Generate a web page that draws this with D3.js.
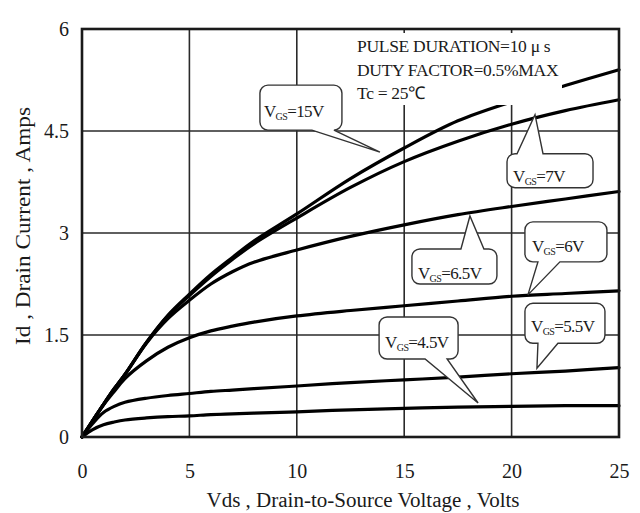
<!DOCTYPE html>
<html><head><meta charset="utf-8">
<script src="https://cdn.jsdelivr.net/npm/d3@7"></script>
<style>
html,body{margin:0;padding:0;background:#fff;}
svg{display:block;}
text{font-family:"Liberation Serif","Times New Roman",serif;fill:#1a1a1a;}
</style></head>
<body>
<svg id="chart" width="640" height="513"></svg>
<script>
// ---- data ----
const vds   = [0, 0.5, 1, 1.5, 2, 3, 4, 5, 6, 7, 8, 10, 12.5, 15, 17.5, 20, 22.5, 25];
const id15  = [0, .24, .48, .71, .92, 1.39, 1.79, 2.10, 2.39, 2.64, 2.88, 3.28, 3.80, 4.25, 4.65, 4.93, 5.17, 5.40];
const id7   = [0, .24, .48, .71, .92, 1.39, 1.78, 2.08, 2.36, 2.61, 2.84, 3.22, 3.67, 4.05, 4.35, 4.60, 4.80, 4.96];
const id65  = [0, .24, .48, .71, .92, 1.38, 1.74, 2.01, 2.25, 2.43, 2.57, 2.75, 2.95, 3.12, 3.27, 3.39, 3.50, 3.61];
const id6   = [0, .24, .47, .67, .86, 1.12, 1.32, 1.46, 1.56, 1.63, 1.69, 1.78, 1.86, 1.93, 2.00, 2.07, 2.11, 2.15];
const id55  = [0, .20, .36, .45, .51, .57, .61, .64, .67, .69, .71, .75, .80, .84, .88, .93, .97, 1.02];
const id45  = [0, .11, .18, .22, .25, .28, .30, .31, .33, .34, .35, .37, .40, .42, .44, .45, .46, .46];
const seriesNames = ["15V", "7V", "6.5V", "6V", "5.5V", "4.5V"];
const seriesValues = [id15, id7, id65, id6, id55, id45];
const xTicks = [0, 5, 10, 15, 20, 25];
const yTicks = [0, 1.5, 3, 4.5, 6];
const yTickLabels = ["0", "1.5", "3", "4.5", "6"];
const xTitle = "Vds , Drain-to-Source Voltage , Volts";
const yTitle = "Id , Drain Current , Amps";
const noteLines = ["PULSE DURATION=10 \u03bc s", "DUTY FACTOR=0.5%MAX", "Tc = 25\u2103"];
// callout targets (data coords) per series label
const calloutNames = ["15V", "7V", "6.5V", "6V", "5.5V", "4.5V"];
const calloutV = [13.87, 21.09, 18.06, 20.76, 21.18, 18.44];
const calloutI = [4.19, 4.74, 3.25, 2.09, 1.01, 0.50];

// ---- layout / style ----
const svg = d3.select("#chart");
svg.append("rect").attr("width",640).attr("height",513).attr("fill","#fff");
const L = 82, R = 619, T = 29, B = 437;
const x = d3.scaleLinear().domain([0,25]).range([L,R]);
const y = d3.scaleLinear().domain([0,6]).range([B,T]);

// grid
const g = svg.append("g");
g.selectAll("line.vx").data(xTicks.slice(1,-1)).enter().append("line")
  .attr("x1",d=>x(d)).attr("x2",d=>x(d)).attr("y1",T).attr("y2",B)
  .attr("stroke","#2a2a2a").attr("stroke-width",1.6);
g.selectAll("line.hy").data(yTicks.slice(1,-1)).enter().append("line")
  .attr("y1",d=>y(d)).attr("y2",d=>y(d)).attr("x1",L).attr("x2",R)
  .attr("stroke","#2a2a2a").attr("stroke-width",1.6);

// curves
const line = d3.line().x(d=>x(d[0])).y(d=>y(d[1])).curve(d3.curveCatmullRom.alpha(0.5));
svg.append("g").selectAll("path").data(seriesValues).enter().append("path")
  .attr("d",vals=>line(vds.map((v,i)=>[v,vals[i]])))
  .attr("fill","none").attr("stroke","#000").attr("stroke-width",3.2)
  .attr("stroke-linejoin","round").attr("stroke-linecap","round");

// legend mask + text
svg.append("rect").attr("x",350).attr("y",33).attr("width",212).attr("height",72).attr("fill","#fff");
svg.append("g").selectAll("text").data(noteLines).enter().append("text")
  .attr("x",357).attr("y",(d,i)=>52+i*23.5)
  .attr("font-size",17.5).attr("letter-spacing",-0.3).text(d=>d);

// border
svg.append("rect").attr("x",L).attr("y",T).attr("width",R-L).attr("height",B-T)
  .attr("fill","none").attr("stroke","#1a1a1a").attr("stroke-width",2.6);

// callouts
const calloutBoxes = {
  "15V": {dx:-120, dy:-67, w:82, h:45, side:"bottom", b1:-68, b2:-46, tx:4, ty:32},
  "7V":  {dx:-28,  dy:39,  w:86, h:34, side:"top",    b1:-18, b2:8,   tx:6, ty:28},
  "6.5V":{dx:-58,  dy:33,  w:85, h:35, side:"top",    b1:-9,  b2:14,  tx:6, ty:30},
  "6V":  {dx:-3,   dy:-73, w:82, h:40, side:"bottom", b1:10,  b2:32,  tx:7, ty:30},
  "5.5V":{dx:-12,  dy:-65, w:80, h:40, side:"bottom", b1:1,   b2:21,  tx:6, ty:29},
  "4.5V":{dx:-99,  dy:-86, w:79, h:42, side:"bottom", b1:-53, b2:-31, tx:6, ty:31}
};
function calloutPath(tx,ty,c){
  const bx = tx+c.dx, by = ty+c.dy, w=c.w, h=c.h, r=8;
  const p = d3.path();
  p.moveTo(bx+r,by);
  if(c.side==="top"){ p.lineTo(tx+c.b1,by); p.lineTo(tx,ty); p.lineTo(tx+c.b2,by); }
  p.lineTo(bx+w-r,by); p.arcTo(bx+w,by,bx+w,by+r,r);
  p.lineTo(bx+w,by+h-r); p.arcTo(bx+w,by+h,bx+w-r,by+h,r);
  if(c.side==="bottom"){ p.lineTo(tx+c.b2,by+h); p.lineTo(tx,ty); p.lineTo(tx+c.b1,by+h); }
  p.lineTo(bx+r,by+h); p.arcTo(bx,by+h,bx,by+h-r,r);
  p.lineTo(bx,by+r); p.arcTo(bx,by,bx+r,by,r);
  p.closePath();
  return p.toString();
}
const cg = svg.append("g");
calloutNames.forEach((name,i)=>{
  const c = calloutBoxes[name];
  const tx = x(calloutV[i]), ty = y(calloutI[i]);
  cg.append("path").attr("d",calloutPath(tx,ty,c))
    .attr("fill","#fff").attr("stroke","#333").attr("stroke-width",1.4);
  const t = cg.append("text").attr("x",tx+c.dx+c.tx).attr("y",ty+c.dy+c.ty).attr("font-size",17).attr("letter-spacing",-0.6);
  t.append("tspan").text("V");
  t.append("tspan").attr("font-size",10).attr("dy",3).text("GS");
  t.append("tspan").attr("dy",-3).text("=" + name);
});

// axes
const xa = svg.append("g").attr("transform",`translate(0,${B})`)
  .call(d3.axisBottom(x).tickValues(xTicks).tickSize(0).tickPadding(27).tickFormat(d3.format("d")));
const ya = svg.append("g").attr("transform",`translate(${L},0)`)
  .call(d3.axisLeft(y).tickValues(yTicks).tickSize(0).tickPadding(13).tickFormat((d,i)=>yTickLabels[i]));
[xa,ya].forEach(a=>{
  a.select(".domain").remove();
  a.selectAll("text").attr("font-family","\"Liberation Serif\",serif").attr("font-size",20).attr("fill","#1a1a1a");
});

// titles
svg.append("text").attr("x",363).attr("y",507).attr("text-anchor","middle")
  .attr("font-size",20).attr("textLength",313).attr("lengthAdjust","spacingAndGlyphs").text(xTitle);
svg.append("text").attr("transform","translate(30,226) rotate(-90)").attr("text-anchor","middle")
  .attr("font-size",20).attr("textLength",238).attr("lengthAdjust","spacingAndGlyphs").text(yTitle);
</script>
</body></html>
